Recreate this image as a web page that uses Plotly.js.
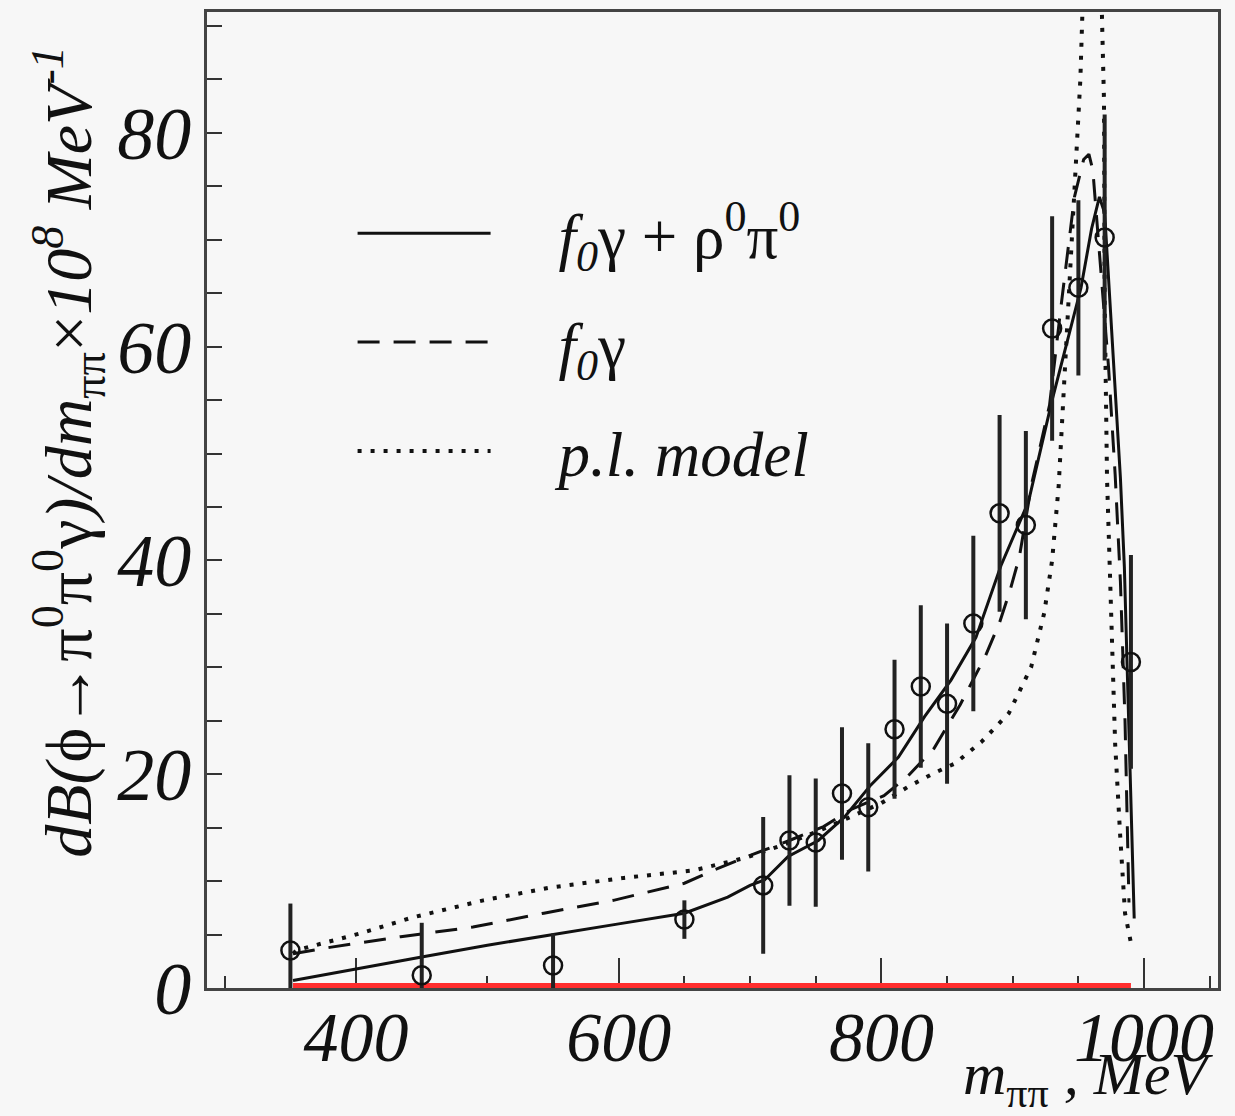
<!DOCTYPE html>
<html>
<head>
<meta charset="utf-8">
<script src="https://cdn.plot.ly/plotly-3.0.1.min.js"></script>
<style>
  html, body { margin: 0; padding: 0; background: #f7f7f7; }
  #chart { width: 1235px; height: 1116px; }
</style>
</head>
<body>
<div id="chart"></div>
<script>
// ---- data ----
const ptsX   = [350, 450, 550, 650, 710, 730, 750, 770, 790, 810, 830, 850, 870, 890, 910, 930, 950, 970, 990];
const ptsY   = [3.5, 1.2, 2.1, 6.4, 9.6, 13.8, 13.6, 18.2, 16.9, 24.2, 28.2, 26.6, 34.1, 44.4, 43.3, 61.7, 65.5, 70.2, 30.5];
const ptsErr = [4.4, 4.9, 3.0, 1.8, 6.4, 6.1, 6.0, 6.2, 6.0, 6.5, 7.6, 7.5, 8.2, 9.2, 8.8, 10.5, 8.2, 11.5, 10.0];

const solidX = [352, 400, 450, 500, 551, 600, 650, 683, 700, 711, 729, 752, 772, 792, 813, 833, 853, 872, 891, 912, 930, 945, 952, 960, 966, 970, 973, 978, 982, 985, 987, 988.5, 991, 992.5];
const solidY = [0.7, 1.8, 2.9, 4.0, 5.05, 6.0, 7.0, 8.5, 9.6, 10.1, 12.3, 13.8, 16.0, 19.0, 21.6, 25.4, 28.8, 32.8, 39.5, 45.5, 55, 62, 65.5, 71, 74, 72.5, 66, 56, 47.7, 39.4, 31, 23, 14.5, 6.5];

const dashX = [352, 380, 434, 489, 543, 596, 650, 672, 698, 730, 756, 777, 802, 820, 840, 860, 879, 890, 898, 905, 914.5, 920, 928, 937, 947, 954, 958, 961, 964, 968, 973, 978, 982, 985.5, 988.5];
const dashY = [3.2, 3.8, 4.8, 5.7, 7.0, 8.2, 9.8, 11.0, 12.3, 13.8, 15.1, 16.7, 18.0, 19.8, 22.4, 26.5, 31, 34.2, 37.2, 40.3, 47.2, 50.3, 54.5, 64, 74, 77.5, 78, 76.5, 72, 66, 58, 48, 38, 25, 8];

const dotX = [352, 355, 403, 443, 497, 548, 604, 657, 697, 730, 760, 780, 800, 820, 840, 856, 876, 897, 914, 924, 930, 935, 938, 941, 944, 947, 949.5, 951.5, 953, 956, 960, 964, 966, 968, 969.5, 970, 971.8, 974, 975.6, 978, 981.7, 985.5, 991];
const dotY = [3.2, 3.55, 5.1, 6.6, 8.2, 9.4, 10.3, 11.0, 12.2, 13.6, 15.1, 16.2, 17.3, 18.8, 20.1, 21, 23, 25.7, 30, 35.1, 40, 47, 54, 61, 68, 74, 80, 85, 91, 120, 140, 115, 100, 90.6, 83, 64.4, 47.7, 39.4, 31, 22.8, 14.5, 7, 3.6];

const zeroX = [352, 990];
const zeroY = [0, 0];

const gap = '\u00A0\u00A0\u00A0\u00A0';
const legendNames = [gap + '<i>f<sub>0</sub></i>γ + ρ<sup>0</sup>π<sup>0</sup>', gap + '<i>f<sub>0</sub></i>γ', gap + '<i>p.l. model</i>'];
const xTitle = '<i>m</i><sub>ππ</sub><i> , MeV</i>';
const yTitle = '<i>dB(</i>ϕ→π<sup>0</sup>π<sup>0</sup>γ<i>)/dm</i><sub>ππ</sub>×<i>10<sup>8</sup> MeV<sup>-1</sup></i>';

const serif = 'Liberation Serif, Times New Roman, serif';

const traces = [
  { x: zeroX, y: zeroY, type: 'scatter', mode: 'lines', showlegend: false,
    line: { color: 'rgb(255,45,45)', width: 10 }, hoverinfo: 'skip' },
  { x: solidX, y: solidY, type: 'scatter', mode: 'lines', name: legendNames[0], legendgroup: 'a',
    line: { color: '#111', width: 3 } },
  { x: dashX, y: dashY, type: 'scatter', mode: 'lines', name: legendNames[1], legendgroup: 'b',
    line: { color: '#111', width: 3, dash: '22px,14px' } },
  { x: dotX, y: dotY, type: 'scatter', mode: 'lines', name: legendNames[2], legendgroup: 'c',
    line: { color: '#111', width: 4, dash: '4px,9px' } },
  { x: ptsX, y: ptsY, type: 'scatter', mode: 'markers', showlegend: false,
    error_y: { type: 'data', array: ptsErr, visible: true, width: 0, thickness: 4, color: '#222' },
    marker: { symbol: 'circle-open', size: 18, color: '#111', line: { width: 2.5 } } }
];

const layout = {
  width: 1235, height: 1116,
  paper_bgcolor: '#f7f7f7', plot_bgcolor: '#f7f7f7',
  margin: { l: 207, r: 17, t: 12, b: 128 },
  showlegend: true,
  legend: {
    x: 0.144, y: 0.822, xanchor: 'left', yanchor: 'top',
    bgcolor: 'rgba(0,0,0,0)', borderwidth: 0,
    font: { family: serif, size: 63, color: '#111' },
    itemwidth: 133, traceorder: 'grouped', tracegroupgap: 24
  },
  xaxis: {
    range: [286.5, 1056.3], showgrid: false, zeroline: false,
    showline: true, mirror: true, linecolor: '#444', linewidth: 3,
    ticks: 'inside', ticklen: 30, tickwidth: 2, tickcolor: '#333',
    tick0: 0, dtick: 200,
    minor: { dtick: 50, ticks: 'inside', ticklen: 12, tickwidth: 2, tickcolor: '#333', showgrid: false },
    tickfont: { family: serif, size: 70, color: '#111', style: 'italic' },
    ticklabelstandoff: -14,
    layer: 'below traces'
  },
  yaxis: {
    range: [0, 91.3], showgrid: false, zeroline: false,
    showline: true, mirror: true, linecolor: '#444', linewidth: 3,
    ticks: 'inside', ticklen: 15, tickwidth: 2, tickcolor: '#333',
    tick0: 0, dtick: 20,
    minor: { dtick: 5, ticks: 'inside', ticklen: 15, tickwidth: 2, tickcolor: '#333', showgrid: false },
    tickfont: { family: serif, size: 74, color: '#111', style: 'italic' },
    ticklabelstandoff: -2,
    layer: 'below traces'
  },
  annotations: [
    { text: xTitle, xref: 'paper', yref: 'paper', x: 0.997, y: -0.093,
      xanchor: 'right', yanchor: 'middle', showarrow: false,
      font: { family: serif, size: 60, color: '#111' } },
    { text: yTitle, xref: 'paper', yref: 'paper', x: -0.137, y: 0.55,
      xanchor: 'center', yanchor: 'middle', showarrow: false, textangle: -90,
      font: { family: serif, size: 66, color: '#111' } }
  ]
};

Plotly.newPlot('chart', traces, layout, { staticPlot: true, displayModeBar: false });
</script>
</body>
</html>
